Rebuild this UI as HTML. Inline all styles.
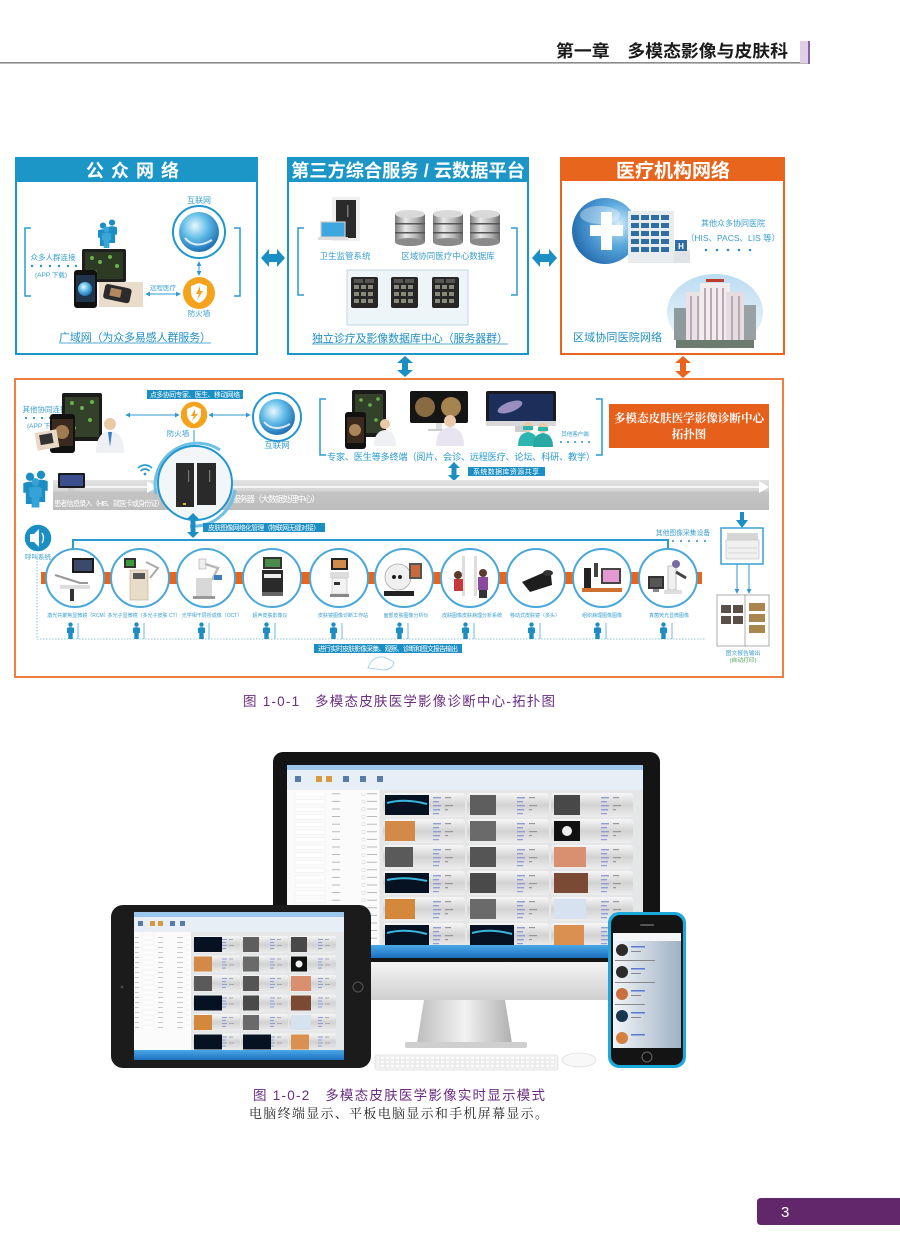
<!DOCTYPE html>
<html><head><meta charset="utf-8">
<style>
html,body{margin:0;padding:0;background:#fff;width:900px;height:1260px;overflow:hidden;}
svg{display:block;}
text{font-family:"Liberation Sans","Noto Sans CJK SC",sans-serif;}
.serif{font-family:"Liberation Serif","Noto Serif CJK SC",serif;}
</style></head><body>
<svg width="900" height="1260" viewBox="0 0 900 1260" xmlns="http://www.w3.org/2000/svg">
<defs>
 <radialGradient id="globe" cx="0.4" cy="0.35" r="0.7"><stop offset="0" stop-color="#eaf7fd"/><stop offset="0.45" stop-color="#62bde9"/><stop offset="1" stop-color="#1668ad"/></radialGradient>
 <radialGradient id="globe2" cx="0.7" cy="0.4" r="0.8"><stop offset="0" stop-color="#d8eef9"/><stop offset="0.4" stop-color="#5aa9dc"/><stop offset="1" stop-color="#1a5fa6"/></radialGradient>
 <linearGradient id="cyl" x1="0" y1="0" x2="1" y2="0"><stop offset="0" stop-color="#7d7d7d"/><stop offset="0.35" stop-color="#e8e8e8"/><stop offset="0.7" stop-color="#b5b5b5"/><stop offset="1" stop-color="#6d6d6d"/></linearGradient>
 <linearGradient id="band" x1="0" y1="0" x2="0" y2="1"><stop offset="0" stop-color="#e2e2e2"/><stop offset="0.35" stop-color="#d6d6d6"/><stop offset="0.4" stop-color="#c4c4c4"/><stop offset="1" stop-color="#bdbdbd"/></linearGradient>
 <linearGradient id="tileg" x1="0" y1="0" x2="0" y2="1"><stop offset="0" stop-color="#f6f6f6"/><stop offset="0.5" stop-color="#d2d2d2"/><stop offset="1" stop-color="#ededed"/></linearGradient>
 <linearGradient id="silver" x1="0" y1="0" x2="0" y2="1"><stop offset="0" stop-color="#f4f4f4"/><stop offset="1" stop-color="#cfcfcf"/></linearGradient>
 <linearGradient id="neck" x1="0" y1="0" x2="1" y2="0"><stop offset="0" stop-color="#bdbdbd"/><stop offset="0.5" stop-color="#f2f2f2"/><stop offset="1" stop-color="#b0b0b0"/></linearGradient>
 <linearGradient id="taskbar" x1="0" y1="0" x2="0" y2="1"><stop offset="0" stop-color="#4aa9e6"/><stop offset="1" stop-color="#1b6fc0"/></linearGradient>
 <linearGradient id="sky" x1="0" y1="0" x2="0" y2="1"><stop offset="0" stop-color="#bcdcf2"/><stop offset="1" stop-color="#f4f8fb"/></linearGradient>
 <linearGradient id="phoneScr" x1="0" y1="0" x2="1" y2="0"><stop offset="0" stop-color="#f2f5f8"/><stop offset="1" stop-color="#9fb2c4"/></linearGradient>
 <marker id="ah" viewBox="0 0 6 6" refX="5" refY="3" markerWidth="5" markerHeight="5" orient="auto-start-reverse"><path d="M0,0 L6,3 L0,6 Z" fill="#2f9ad0"/></marker>
 <symbol id="person" viewBox="0 0 10 20"><circle cx="5" cy="3" r="2.6"/><path d="M0.8,7 Q5,5 9.2,7 L9.2,13 L7.6,13 L7.6,20 L2.4,20 L2.4,13 L0.8,13 Z"/></symbol>
 <g id="mtile"><rect width="82" height="24" rx="3" fill="url(#tileg)"/><g fill="#8e9ed6"><rect x="50" y="4" width="8" height="1.4"/><rect x="50" y="8" width="6" height="1.4"/><rect x="50" y="12" width="8" height="1.4"/><rect x="50" y="16" width="7" height="1.4"/><rect x="50" y="20" width="6" height="1.2"/></g><g fill="#999"><rect x="62" y="4" width="6" height="1.2"/><rect x="62" y="12" width="8" height="1.2"/><rect x="62" y="16" width="3" height="1.2"/></g></g>
 <g id="ttile"><rect width="47" height="17" rx="2" fill="url(#tileg)"/><g fill="#8e9ed6"><rect x="29" y="3" width="5" height="1"/><rect x="29" y="6" width="4" height="1"/><rect x="29" y="9" width="5" height="1"/><rect x="29" y="12" width="4" height="1"/></g><g fill="#aaa"><rect x="36" y="3" width="4" height="1"/><rect x="36" y="9" width="5" height="1"/></g></g>
 <pattern id="formrows" width="90" height="7.6" patternUnits="userSpaceOnUse"><rect x="2" y="2" width="3" height="3" fill="none" stroke="#c8c8c8" stroke-width="0.4"/><rect x="7" y="3" width="10" height="0.8" fill="#aaa"/><rect x="25" y="1.5" width="30" height="4.5" fill="#fff" stroke="#e6e6e6" stroke-width="0.4"/><rect x="62" y="3" width="8" height="0.8" fill="#aaa"/></pattern>
 <pattern id="formrowsT" width="44" height="5" patternUnits="userSpaceOnUse"><rect x="1" y="2" width="6" height="0.6" fill="#aaa"/><rect x="10" y="1" width="12" height="3" fill="#fff" stroke="#e6e6e6" stroke-width="0.3"/><rect x="26" y="2" width="5" height="0.6" fill="#aaa"/></pattern>
 <pattern id="keys" width="5" height="4" patternUnits="userSpaceOnUse"><rect x="0.5" y="0.5" width="4" height="3" fill="#fcfcfc" stroke="#dedede" stroke-width="0.4"/></pattern>
</defs>

<!-- ===== Running header ===== -->
<text x="556" y="57" font-size="17" font-weight="bold" fill="#1a1a1a" textLength="232" lengthAdjust="spacingAndGlyphs">第一章　多模态影像与皮肤科</text>
<rect x="0" y="62" width="810" height="1.6" fill="#8c8c8c"/>
<rect x="800" y="41" width="8" height="22" fill="#dccfe6"/>
<rect x="808" y="41" width="2" height="23" fill="#8d5f9f"/>

<!-- ===== Box 1 公众网络 ===== -->
<rect x="16" y="158" width="241" height="196" fill="#fff" stroke="#1b96c6" stroke-width="2"/>
<rect x="16" y="158" width="241" height="24" fill="#1b96c6"/>
<text x="136" y="177" font-size="18" font-weight="bold" fill="#fff" text-anchor="middle" letter-spacing="7">公众网络</text>
<path d="M31,228 H25 V296 H31" fill="none" stroke="#2a9bd0" stroke-width="1.5"/>
<path d="M234,228 H240 V296 H234" fill="none" stroke="#2a9bd0" stroke-width="1.5"/>
<text x="53" y="260" font-size="7.5" fill="#3a9fd0" text-anchor="middle">众多人群连接</text>
<g fill="#2a8fc6"><circle cx="32" cy="266" r="1.2"/><circle cx="41" cy="266" r="1.2"/><circle cx="50" cy="266" r="1.2"/><circle cx="59" cy="266" r="1.2"/><circle cx="68" cy="266" r="1.2"/><circle cx="76" cy="266" r="1.2"/></g>
<text x="51" y="277" font-size="6.5" fill="#3a9fd0" text-anchor="middle">(APP 下载)</text>
<g fill="#1d8ec3"><use href="#person" x="97" y="218" width="12" height="32"/><use href="#person" x="106" y="214" width="12" height="34"/><use href="#person" x="101" y="222" width="11" height="30" fill="#3aa6d8"/></g>
<rect x="82" y="249" width="44" height="33" rx="2" fill="#1f1f1f"/>
<rect x="85" y="252" width="38" height="27" fill="#2e3b24"/>
<g fill="#6ab04c"><circle cx="92" cy="258" r="2"/><circle cx="100" cy="262" r="2"/><circle cx="110" cy="257" r="2"/><circle cx="117" cy="266" r="2"/><circle cx="95" cy="272" r="2"/></g>
<rect x="74" y="270" width="23" height="38" rx="3" fill="#111"/>
<rect x="76" y="275" width="19" height="27" fill="#20344c"/>
<circle cx="85" cy="289" r="7" fill="url(#globe)"/>
<rect x="99" y="282" width="44" height="25" fill="#e9dccb"/>
<rect x="104" y="286" width="27" height="15" rx="3" fill="#2b2b2b" transform="rotate(12 117 293)"/>
<rect x="110" y="289" width="11" height="8" fill="#b08860" transform="rotate(12 117 293)"/>
<line x1="146" y1="294" x2="180" y2="294" stroke="#2f9ad0" stroke-width="1" marker-start="url(#ah)" marker-end="url(#ah)"/>
<text x="163" y="290" font-size="6.5" fill="#3a9fd0" text-anchor="middle">远程医疗</text>
<text x="199" y="203" font-size="8" fill="#3a9fd0" text-anchor="middle">互联网</text>
<circle cx="199" cy="232" r="26" fill="#fff" stroke="#2196cf" stroke-width="2"/>
<circle cx="199" cy="232" r="20" fill="url(#globe)"/>
<path d="M185,238 Q195,250 212,240" stroke="#fff" stroke-width="2" fill="none" opacity="0.8"/>
<line x1="199" y1="262" x2="199" y2="275" stroke="#2f9ad0" stroke-width="1" marker-start="url(#ah)" marker-end="url(#ah)"/>
<circle cx="199" cy="293" r="16" fill="#f5a31c"/>
<path d="M199,283 L207,286 L207,293 Q206,300 199,303 Q192,300 191,293 L191,286 Z" fill="#fff"/>
<path d="M200,286 L196,294 L199,294 L197,300 L203,291 L200,291 Z" fill="#f5a31c"/>
<text x="199" y="316" font-size="7.5" fill="#3a9fd0" text-anchor="middle">防火墙</text>
<text x="135" y="341" font-size="11" fill="#1d8ec3" text-anchor="middle" textLength="152">广域网（为众多易感人群服务）</text>
<line x1="59" y1="343" x2="211" y2="343" stroke="#1d8ec3" stroke-width="0.8"/>

<!-- arrows between boxes -->
<polygon points="261,258 269,249 269,254 277,254 277,249 285,258 277,267 277,262 269,262 269,267" fill="#1b8fc4"/>
<polygon points="532,258 540,249 540,254 549,254 549,249 557,258 549,267 549,262 540,262 540,267" fill="#1b8fc4"/>

<!-- ===== Box 2 第三方综合服务 ===== -->
<rect x="288" y="158" width="240" height="196" fill="#fff" stroke="#1b96c6" stroke-width="2"/>
<rect x="288" y="158" width="240" height="24" fill="#1b96c6"/>
<text x="408" y="177" font-size="18" font-weight="bold" fill="#fff" text-anchor="middle" textLength="234" lengthAdjust="spacingAndGlyphs">第三方综合服务 / 云数据平台</text>
<path d="M304,228 H298 V295 H304" fill="none" stroke="#2a9bd0" stroke-width="1.5"/>
<path d="M511,228 H517 V295 H511" fill="none" stroke="#2a9bd0" stroke-width="1.5"/>
<rect x="332" y="197" width="28" height="44" fill="#f0f0f0"/>
<rect x="336" y="200" width="20" height="38" fill="#2a2a2a"/>
<rect x="347" y="205" width="1.5" height="12" fill="#777"/>
<rect x="321" y="222" width="24" height="15" fill="#3fa7e0" stroke="#ccc" stroke-width="1.2"/>
<rect x="318" y="237" width="30" height="3" fill="#ddd"/>
<text x="345" y="259" font-size="8.5" fill="#3a9fd0" text-anchor="middle">卫生监管系统</text>
<g>
 <rect x="395" y="214" width="30" height="28" fill="url(#cyl)"/><ellipse cx="410" cy="214" rx="15" ry="4" fill="#d9d9d9"/><ellipse cx="410" cy="242" rx="15" ry="4" fill="#8a8a8a"/>
 <rect x="395" y="223" width="30" height="1.5" fill="#555"/><rect x="395" y="232" width="30" height="1.5" fill="#555"/>
 <rect x="433" y="214" width="30" height="28" fill="url(#cyl)"/><ellipse cx="448" cy="214" rx="15" ry="4" fill="#d9d9d9"/><ellipse cx="448" cy="242" rx="15" ry="4" fill="#8a8a8a"/>
 <rect x="433" y="223" width="30" height="1.5" fill="#555"/><rect x="433" y="232" width="30" height="1.5" fill="#555"/>
 <rect x="470" y="214" width="30" height="28" fill="url(#cyl)"/><ellipse cx="485" cy="214" rx="15" ry="4" fill="#d9d9d9"/><ellipse cx="485" cy="242" rx="15" ry="4" fill="#8a8a8a"/>
 <rect x="470" y="223" width="30" height="1.5" fill="#555"/><rect x="470" y="232" width="30" height="1.5" fill="#555"/>
</g>
<text x="448" y="259" font-size="8.5" fill="#3a9fd0" text-anchor="middle">区域协同医疗中心数据库</text>
<rect x="347" y="270" width="121" height="55" fill="#eef5f8" stroke="#b9d9e6" stroke-width="1"/>
<g>
 <rect x="351" y="277" width="27" height="31" rx="2" fill="#262626"/><rect x="391" y="277" width="27" height="31" rx="2" fill="#262626"/><rect x="432" y="277" width="27" height="31" rx="2" fill="#262626"/>
 <g fill="#8a8a7a">
  <rect x="354" y="285" width="5" height="4"/><rect x="361" y="285" width="5" height="4"/><rect x="368" y="285" width="5" height="4"/><rect x="354" y="292" width="5" height="4"/><rect x="361" y="292" width="5" height="4"/><rect x="368" y="292" width="5" height="4"/><rect x="354" y="299" width="5" height="4"/><rect x="361" y="299" width="5" height="4"/><rect x="368" y="299" width="5" height="4"/>
  <rect x="394" y="285" width="5" height="4"/><rect x="401" y="285" width="5" height="4"/><rect x="408" y="285" width="5" height="4"/><rect x="394" y="292" width="5" height="4"/><rect x="401" y="292" width="5" height="4"/><rect x="408" y="292" width="5" height="4"/><rect x="394" y="299" width="5" height="4"/><rect x="401" y="299" width="5" height="4"/><rect x="408" y="299" width="5" height="4"/>
  <rect x="435" y="285" width="5" height="4"/><rect x="442" y="285" width="5" height="4"/><rect x="449" y="285" width="5" height="4"/><rect x="435" y="292" width="5" height="4"/><rect x="442" y="292" width="5" height="4"/><rect x="449" y="292" width="5" height="4"/><rect x="435" y="299" width="5" height="4"/><rect x="442" y="299" width="5" height="4"/><rect x="449" y="299" width="5" height="4"/>
 </g>
 <g fill="#555"><rect x="354" y="279" width="9" height="4"/><rect x="365" y="279" width="9" height="4"/><rect x="394" y="279" width="9" height="4"/><rect x="405" y="279" width="9" height="4"/><rect x="435" y="279" width="9" height="4"/><rect x="446" y="279" width="9" height="4"/></g>
</g>
<text x="410" y="342" font-size="11" fill="#1d8ec3" text-anchor="middle" textLength="196">独立诊疗及影像数据库中心（服务器群）</text>
<line x1="312" y1="344" x2="508" y2="344" stroke="#1d8ec3" stroke-width="0.8"/>

<!-- ===== Box 3 医疗机构网络 ===== -->
<rect x="561" y="158" width="223" height="196" fill="#fff" stroke="#e8651e" stroke-width="2"/>
<rect x="561" y="158" width="223" height="23" fill="#e8651e"/>
<text x="673" y="177" font-size="19" font-weight="bold" fill="#fff" text-anchor="middle">医疗机构网络</text>
<circle cx="605" cy="231" r="33" fill="url(#globe2)"/>
<ellipse cx="600" cy="215" rx="20" ry="9" fill="#fff" opacity="0.35"/>
<rect x="590" y="225" width="33" height="11" fill="#fff"/>
<rect x="601" y="212" width="11" height="38" fill="#fff"/>
<rect x="628" y="211" width="46" height="52" fill="#e8ecef"/>
<g fill="#2f6da6">
 <rect x="631" y="215" width="8" height="5"/><rect x="641" y="215" width="8" height="5"/><rect x="651" y="215" width="8" height="5"/><rect x="661" y="215" width="8" height="5"/>
 <rect x="631" y="223" width="8" height="5"/><rect x="641" y="223" width="8" height="5"/><rect x="651" y="223" width="8" height="5"/><rect x="661" y="223" width="8" height="5"/>
 <rect x="631" y="231" width="8" height="5"/><rect x="641" y="231" width="8" height="5"/><rect x="651" y="231" width="8" height="5"/><rect x="661" y="231" width="8" height="5"/>
 <rect x="631" y="239" width="8" height="5"/><rect x="641" y="239" width="8" height="5"/><rect x="651" y="239" width="8" height="5"/><rect x="661" y="239" width="8" height="5"/>
 <rect x="631" y="247" width="8" height="5"/><rect x="641" y="247" width="8" height="5"/><rect x="651" y="247" width="8" height="5"/><rect x="661" y="247" width="8" height="5"/>
</g>
<rect x="674" y="250" width="16" height="13" fill="#dfe3e6"/>
<rect x="675" y="240" width="12" height="11" fill="#2f6da6"/>
<text x="681" y="249" font-size="8" font-weight="bold" fill="#fff" text-anchor="middle">H</text>
<text x="733" y="226" font-size="8" fill="#3a9fd0" text-anchor="middle">其他众多协同医院</text>
<text x="733" y="241" font-size="8.5" fill="#3a9fd0" text-anchor="middle">（HIS、PACS、LIS 等）</text>
<g fill="#2a8fc6"><circle cx="706" cy="250" r="1.3"/><circle cx="717" cy="250" r="1.3"/><circle cx="728" cy="250" r="1.3"/><circle cx="739" cy="250" r="1.3"/><circle cx="750" cy="250" r="1.3"/></g>
<ellipse cx="715" cy="312" rx="48" ry="38" fill="url(#sky)"/>
<g>
 <rect x="686" y="292" width="18" height="50" fill="#e9e1e3"/>
 <rect x="700" y="283" width="30" height="62" fill="#f2eced"/>
 <rect x="726" y="292" width="18" height="50" fill="#e4dcdf"/>
 <g fill="#b9a9b6"><rect x="704" y="288" width="2" height="52"/><rect x="710" y="288" width="2" height="52"/><rect x="716" y="288" width="2" height="52"/><rect x="722" y="288" width="2" height="52"/><rect x="690" y="296" width="2" height="44"/><rect x="697" y="296" width="2" height="44"/><rect x="731" y="296" width="2" height="44"/><rect x="738" y="296" width="2" height="44"/></g>
 <rect x="706" y="279" width="18" height="3" fill="#c0392b"/>
 <rect x="744" y="305" width="12" height="35" fill="#9aa1a4"/>
 <rect x="674" y="308" width="12" height="32" fill="#8f9a9e"/>
 <rect x="676" y="340" width="78" height="8" fill="#6b7b6e"/>
</g>
<text x="573" y="341" font-size="11" fill="#1d8ec3" textLength="89">区域协同医院网络</text>

<polygon points="405,356 413,363 408,363 408,370 413,370 405,377 397,370 402,370 402,363 397,363" fill="#1b8fc4"/>
<polygon points="683,356 691,363 686,363 686,371 691,371 683,378 675,371 680,371 680,363 675,363" fill="#e8651e"/>

<!-- ===== Big orange box ===== -->
<rect x="15" y="379" width="768" height="298" fill="#fff" stroke="#ec8040" stroke-width="2"/>

<!-- top left cluster -->
<text x="45" y="412" font-size="7.5" fill="#3a9fd0" text-anchor="middle">其他协同连接</text>
<g fill="#2a8fc6"><circle cx="26" cy="418" r="1.1"/><circle cx="34" cy="418" r="1.1"/><circle cx="42" cy="418" r="1.1"/><circle cx="50" cy="418" r="1.1"/><circle cx="58" cy="418" r="1.1"/><circle cx="65" cy="418" r="1.1"/></g>
<text x="43" y="428" font-size="6.5" fill="#3a9fd0" text-anchor="middle">(APP 下载)</text>
<rect x="62" y="393" width="40" height="48" rx="2" fill="#1b1b1b"/>
<rect x="65" y="397" width="34" height="40" fill="#34412a"/>
<g fill="#6ab04c"><circle cx="72" cy="403" r="2"/><circle cx="82" cy="408" r="2"/><circle cx="92" cy="402" r="2"/><circle cx="90" cy="420" r="2"/><circle cx="74" cy="428" r="2"/></g>
<rect x="50" y="414" width="25" height="39" rx="3" fill="#111"/>
<rect x="52" y="419" width="21" height="27" fill="#3a2a1e"/>
<circle cx="62" cy="432" r="7" fill="#a07a50"/>
<rect x="36" y="431" width="22" height="18" fill="#e8d8c5" transform="rotate(-10 47 440)"/>
<rect x="40" y="434" width="13" height="10" fill="#333" transform="rotate(-10 47 440)"/>
<circle cx="110" cy="424" r="6" fill="#e9c9a8"/>
<path d="M96,453 Q96,432 110,431 Q124,432 124,453 Z" fill="#eef0f4"/>
<path d="M108,432 L110,447 L112,432 Z" fill="#3a7fc0"/>
<rect x="147" y="390" width="96" height="9" fill="#1b8fc4"/>
<text x="195" y="397" font-size="6.8" fill="#fff" text-anchor="middle" textLength="90">点多协同专家、医生、移动网络</text>
<line x1="126" y1="415" x2="179" y2="415" stroke="#2f9ad0" stroke-width="1" marker-start="url(#ah)" marker-end="url(#ah)"/>
<line x1="209" y1="415" x2="250" y2="415" stroke="#2f9ad0" stroke-width="1" marker-start="url(#ah)" marker-end="url(#ah)"/>
<circle cx="194" cy="415" r="14" fill="#f5a31c" stroke="#fff" stroke-width="1.5"/>
<path d="M194,406 L201,409 L201,415 Q200,421 194,424 Q188,421 187,415 L187,409 Z" fill="#fff"/>
<path d="M195,409 L191,416 L194,416 L192,421 L198,414 L195,414 Z" fill="#f5a31c"/>
<text x="178" y="436" font-size="7.5" fill="#3a9fd0" text-anchor="middle">防火墙</text>
<line x1="194" y1="430" x2="194" y2="446" stroke="#2f9ad0" stroke-width="1" marker-end="url(#ah)"/>
<circle cx="277" cy="417" r="24" fill="#fff" stroke="#2196cf" stroke-width="2"/>
<circle cx="277" cy="417" r="18" fill="url(#globe)"/>
<path d="M264,422 Q274,433 290,424" stroke="#fff" stroke-width="2" fill="none" opacity="0.8"/>
<text x="277" y="448" font-size="8.5" fill="#3a9fd0" text-anchor="middle">互联网</text>

<!-- expert cluster -->
<path d="M326,399 H320 V455 H326" fill="none" stroke="#2a9bd0" stroke-width="1.5"/>
<path d="M596,399 H602 V455 H596" fill="none" stroke="#2a9bd0" stroke-width="1.5"/>
<rect x="352" y="390" width="34" height="47" rx="2" fill="#1b1b1b"/>
<rect x="355" y="394" width="28" height="39" fill="#34412a"/>
<g fill="#6ab04c"><circle cx="361" cy="400" r="1.8"/><circle cx="370" cy="405" r="1.8"/><circle cx="378" cy="399" r="1.8"/><circle cx="376" cy="420" r="1.8"/></g>
<rect x="345" y="412" width="21" height="37" rx="3" fill="#111"/>
<rect x="347" y="417" width="17" height="26" fill="#3a2a1e"/>
<circle cx="355" cy="430" r="6" fill="#a8865a"/>
<circle cx="385" cy="424" r="5" fill="#e9c9a8"/>
<path d="M374,446 Q374,431 385,430 Q396,431 396,446 Z" fill="#eef0f4"/>
<rect x="410" y="391" width="58" height="32" rx="2" fill="#151515"/>
<circle cx="425" cy="407" r="10" fill="#8a6a40"/><circle cx="451" cy="407" r="10" fill="#a5844f"/>
<rect x="436" y="423" width="6" height="6" fill="#ddd"/><rect x="428" y="429" width="22" height="2" fill="#ccc"/>
<circle cx="450" cy="421" r="6" fill="#e9c9a8"/>
<path d="M436,446 Q436,428 450,427 Q464,428 464,446 Z" fill="#e8e4f0"/>
<rect x="486" y="391" width="70" height="35" rx="2" fill="#1a1a22"/>
<rect x="489" y="394" width="64" height="27" fill="#1c2e5a"/>
<ellipse cx="510" cy="407" rx="13" ry="5" fill="#b8a6d8" opacity="0.8" transform="rotate(-20 510 407)"/>
<rect x="486" y="421" width="70" height="5" fill="#d8d8d8"/>
<rect x="515" y="426" width="12" height="6" fill="#ccc"/>
<circle cx="528" cy="427" r="5" fill="#e9c9a8"/><circle cx="543" cy="428" r="5" fill="#e9c9a8"/>
<rect x="523" y="426" width="10" height="4" fill="#2fb5b0"/><rect x="538" y="427" width="10" height="4" fill="#2fb5b0"/>
<path d="M518,446 Q518,433 528,432 Q538,433 538,446 Z" fill="#2fb5b0"/>
<path d="M533,447 Q533,434 543,433 Q553,434 553,447 Z" fill="#29a9a4"/>
<text x="575" y="436" font-size="5.5" fill="#3a9fd0" text-anchor="middle">其他客户端</text>
<g fill="#2a8fc6"><circle cx="561" cy="442" r="1"/><circle cx="568" cy="442" r="1"/><circle cx="575" cy="442" r="1"/><circle cx="582" cy="442" r="1"/><circle cx="589" cy="442" r="1"/></g>
<text x="327" y="460" font-size="9.2" fill="#2a9bd0" textLength="268">专家、医生等多终端（阅片、会诊、远程医疗、论坛、科研、教学）</text>
<rect x="609" y="404" width="160" height="44" fill="#e6601c"/>
<text x="689" y="422" class="serif" font-size="11.5" font-weight="bold" fill="#fff" text-anchor="middle" textLength="150">多模态皮肤医学影像诊断中心</text>
<text x="689" y="438" class="serif" font-size="11.5" font-weight="bold" fill="#fff" text-anchor="middle">拓扑图</text>
<polygon points="454,462 460,468 456.5,468 456.5,475 460,475 454,481 448,475 451.5,475 451.5,468 448,468" fill="#1b8fc4"/>
<rect x="468" y="467" width="77" height="9" fill="#1b8fc4"/>
<text x="506" y="474" font-size="7" fill="#fff" text-anchor="middle" textLength="66">系统数据库资源共享</text>

<!-- gray band -->
<rect x="53" y="480" width="716" height="30" fill="url(#band)"/>
<line x1="60" y1="487" x2="760" y2="487" stroke="#fff" stroke-width="1.5"/>
<polygon points="759,481 769,487 759,493" fill="#fff"/>
<polygon points="147,481 157,487 147,493" fill="#fff"/>
<g fill="#1d8ec3"><use href="#person" x="22" y="466" width="16" height="44"/><use href="#person" x="33" y="462" width="16" height="48"/><use href="#person" x="28" y="472" width="15" height="41" fill="#35a3d8"/></g>
<rect x="58" y="473" width="27" height="15" rx="1" fill="#1a1a22"/>
<rect x="60" y="475" width="23" height="11" fill="#3b4f8e"/>
<rect x="68" y="488" width="7" height="3" fill="#ccc"/>
<text x="54" y="506" font-size="7.3" fill="#fff" textLength="110">患者信息录入（HIS、就医卡或身份证）</text>
<text x="232" y="502" font-size="8.5" fill="#fff" textLength="88">服务器（大数据处理中心）</text>
<g fill="none" stroke="#2a9bd0" stroke-width="1.6"><path d="M138,468 Q145,462 152,468"/><path d="M140.5,471 Q145,467 149.5,471"/></g>
<circle cx="145" cy="474" r="1.4" fill="#2a9bd0"/>
<path d="M156,494 A42,42 0 0 1 220,450" fill="none" stroke="#6fc0e6" stroke-width="3"/>
<path d="M235,490 A42,42 0 0 1 190,526" fill="none" stroke="#6fc0e6" stroke-width="3"/>
<circle cx="195" cy="483" r="37" fill="#f3f6f8" stroke="#2196cf" stroke-width="2"/>
<rect x="176" y="463" width="18" height="44" fill="#2a2a2a"/>
<rect x="197" y="463" width="19" height="42" fill="#2a2a2a"/>
<rect x="188" y="470" width="1.2" height="12" fill="#777"/><rect x="209" y="470" width="1.2" height="12" fill="#777"/>
<rect x="183" y="503" width="3" height="2" fill="#e0c020"/>
<polygon points="193,513 199,519 195.5,519 195.5,532 199,532 193,538 187,532 190.5,532 190.5,519 187,519" fill="#1b8fc4"/>
<rect x="203" y="523" width="122" height="9" fill="#1b8fc4"/>
<text x="264" y="530" font-size="6.8" fill="#fff" text-anchor="middle" textLength="112">皮肤图像网络化管理（物联网无缝对接）</text>
<circle cx="38" cy="538" r="14" fill="#1b8fc4" stroke="#fff" stroke-width="1.5"/>
<path d="M30,534 h4 l5,-5 v18 l-5,-5 h-4 z" fill="#fff"/>
<path d="M42,533 Q45,538 42,543" stroke="#fff" stroke-width="1.3" fill="none"/>
<text x="38" y="559" font-size="6.5" fill="#3a9fd0" text-anchor="middle">呼叫系统</text>

<!-- device bus -->
<path d="M73,550 V540 H668 V550" fill="none" stroke="#2a9bd0" stroke-width="2"/>
<line x1="37" y1="555" x2="37" y2="639" stroke="#6fb8dc" stroke-width="0.8" stroke-dasharray="1.5,1.5"/>
<line x1="37" y1="639" x2="706" y2="639" stroke="#6fb8dc" stroke-width="0.8" stroke-dasharray="1.5,1.5"/>
<rect x="41" y="572" width="661" height="12" fill="#e8651e"/>
<g fill="#fff" stroke="#4aa8d8" stroke-width="2">
 <circle cx="75" cy="578" r="29"/><circle cx="140" cy="578" r="29"/><circle cx="206" cy="578" r="29"/><circle cx="272" cy="578" r="29"/><circle cx="339" cy="578" r="29"/>
 <circle cx="404" cy="578" r="29"/><circle cx="470" cy="578" r="29"/><circle cx="536" cy="578" r="29"/><circle cx="602" cy="578" r="29"/><circle cx="668" cy="578" r="29"/>
</g>
<!-- device icons -->
<g>
 <rect x="72" y="558" width="22" height="15" fill="#1a1a1a"/><rect x="74" y="560" width="18" height="11" fill="#3b4a6a"/>
 <path d="M55,575 L80,583 L88,583" stroke="#999" stroke-width="2" fill="none"/><rect x="60" y="585" width="30" height="4" fill="#ddd"/><rect x="70" y="589" width="4" height="12" fill="#333"/>
 <rect x="130" y="570" width="18" height="30" fill="#e8dcc6" stroke="#b8a890" stroke-width="0.6"/><rect x="133" y="573" width="12" height="6" fill="#555"/>
 <rect x="124" y="558" width="12" height="10" fill="#333"/><rect x="126" y="560" width="8" height="6" fill="#3a9a3a"/>
 <path d="M146,562 L158,568 L150,578" stroke="#aaa" stroke-width="2" fill="none"/>
 <rect x="199" y="559" width="7" height="10" fill="#eee" stroke="#aaa" stroke-width="0.6"/><path d="M205,564 L218,568 L212,580" stroke="#bbb" stroke-width="2.5" fill="none"/>
 <rect x="196" y="578" width="16" height="18" fill="#d8d8d8"/><rect x="193" y="596" width="22" height="3" fill="#999"/><rect x="214" y="575" width="8" height="5" fill="#3a7fc0"/>
 <rect x="263" y="557" width="19" height="12" fill="#333"/><rect x="265" y="559" width="15" height="8" fill="#4a8a4a"/>
 <rect x="262" y="570" width="21" height="22" fill="#2a2a2a"/><rect x="264" y="574" width="17" height="4" fill="#eee"/><rect x="262" y="592" width="21" height="4" fill="#666"/>
 <rect x="331" y="558" width="17" height="12" fill="#222"/><rect x="333" y="560" width="13" height="8" fill="#d08a4a"/>
 <rect x="330" y="572" width="19" height="6" fill="#ddd"/><rect x="332" y="578" width="15" height="16" fill="#f2f2f2" stroke="#bbb" stroke-width="0.6"/><rect x="334" y="582" width="6" height="3" fill="#333"/><rect x="330" y="594" width="19" height="3" fill="#888"/>
 <circle cx="398" cy="577" r="13" fill="#f0f0f0" stroke="#aaa" stroke-width="0.8"/><circle cx="394" cy="577" r="2" fill="#222"/><circle cx="400" cy="577" r="2" fill="#222"/>
 <rect x="409" y="563" width="13" height="16" fill="#555"/><rect x="411" y="565" width="9" height="12" fill="#c96a3a"/><rect x="384" y="591" width="30" height="5" fill="#222"/>
 <rect x="462" y="556" width="3" height="40" fill="#ddd"/><rect x="474" y="556" width="3" height="40" fill="#ddd"/>
 <circle cx="458" cy="575" r="4" fill="#5a3a2a"/><rect x="454" y="579" width="9" height="12" fill="#c43a3a"/>
 <circle cx="483" cy="573" r="4" fill="#5a3a2a"/><rect x="478" y="577" width="10" height="13" fill="#8a4aa0"/><rect x="479" y="590" width="8" height="8" fill="#333"/>
 <path d="M522,582 L545,572 L551,575 L552,585 L530,592 Z" fill="#1e1e1e"/><ellipse cx="548" cy="573" rx="5" ry="3" fill="#333"/>
 <rect x="584" y="568" width="7" height="22" fill="#222"/><rect x="594" y="563" width="4" height="14" fill="#444"/><rect x="601" y="568" width="20" height="16" fill="#444"/><rect x="603" y="570" width="16" height="12" fill="#e39ad0"/>
 <rect x="582" y="588" width="40" height="4" fill="#d07030"/>
 <rect x="648" y="576" width="16" height="13" fill="#333"/><rect x="650" y="578" width="12" height="9" fill="#555"/><rect x="653" y="589" width="6" height="3" fill="#888"/>
 <rect x="668" y="566" width="8" height="24" fill="#f0f0f0" stroke="#999" stroke-width="0.6"/><circle cx="676" cy="564" r="4" fill="#7a6aa0"/><path d="M676,572 L686,578" stroke="#444" stroke-width="3"/><rect x="664" y="590" width="18" height="4" fill="#ddd"/>
</g>
<g font-size="5" fill="#3a9fd0" text-anchor="middle">
 <text x="78" y="617">激光共聚焦显微镜（RCM）</text>
 <text x="144" y="617">多光子显微镜（多光子皮肤 CT）</text>
 <text x="212" y="617">光学相干层析成像（OCT）</text>
 <text x="270" y="617">超声皮肤影像仪</text>
 <text x="343" y="617">皮肤镜图像诊断工作站</text>
 <text x="406" y="617">面部皮肤图像分析仪</text>
 <text x="472" y="617">皮肤图像皮肤病理分析系统</text>
 <text x="535" y="617">移动式皮肤镜（多头）</text>
 <text x="602" y="617">组织病理图像图像</text>
 <text x="669" y="617">真菌荧光显微图像</text>
</g>
<g fill="#1d8ec3">
 <use href="#person" x="66" y="622" width="9" height="17"/><use href="#person" x="132" y="622" width="9" height="17"/><use href="#person" x="197" y="622" width="9" height="17"/>
 <use href="#person" x="262" y="622" width="9" height="17"/><use href="#person" x="329" y="622" width="9" height="17"/><use href="#person" x="395" y="622" width="9" height="17"/>
 <use href="#person" x="461" y="622" width="9" height="17"/><use href="#person" x="527" y="622" width="9" height="17"/><use href="#person" x="593" y="622" width="9" height="17"/>
 <use href="#person" x="659" y="622" width="9" height="17"/>
</g>
<g stroke="#4aa8d8" stroke-width="0.8">
 <line x1="78" y1="623" x2="78" y2="639"/><line x1="144" y1="623" x2="144" y2="639"/><line x1="209" y1="623" x2="209" y2="639"/><line x1="275" y1="623" x2="275" y2="639"/><line x1="342" y1="623" x2="342" y2="639"/>
 <line x1="408" y1="623" x2="408" y2="639"/><line x1="474" y1="623" x2="474" y2="639"/><line x1="540" y1="623" x2="540" y2="639"/><line x1="606" y1="623" x2="606" y2="639"/><line x1="672" y1="623" x2="672" y2="639"/>
</g>
<rect x="314" y="644" width="148" height="9" fill="#1b8fc4"/>
<text x="388" y="651" font-size="6.8" fill="#fff" text-anchor="middle" textLength="140">进行实时皮肤影像采集、观察、诊断和图文报告输出</text>
<path d="M368,668 Q372,656 384,657 L394,662 Q393,669 384,670 Z" fill="none" stroke="#a9d4ec" stroke-width="1"/>
<text x="683" y="535" font-size="6.8" fill="#3a9fd0" text-anchor="middle">其他图像采集设备</text>
<g fill="#2a8fc6"><circle cx="673" cy="541" r="1"/><circle cx="681" cy="541" r="1"/><circle cx="689" cy="541" r="1"/><circle cx="697" cy="541" r="1"/><circle cx="705" cy="541" r="1"/></g>
<rect x="740" y="512" width="4" height="9" fill="#1b8fc4"/><polygon points="736,520 748,520 742,528" fill="#1b8fc4"/>
<rect x="721" y="528" width="42" height="36" fill="#fff" stroke="#3aa0d0" stroke-width="1.5"/>
<rect x="727" y="533" width="31" height="8" fill="#d6d6d6"/><rect x="726" y="540" width="33" height="19" fill="#f0f0f0" stroke="#bbb" stroke-width="0.6"/>
<line x1="728" y1="548" x2="757" y2="548" stroke="#bbb" stroke-width="0.6"/><line x1="728" y1="553" x2="757" y2="553" stroke="#bbb" stroke-width="0.6"/>
<line x1="737" y1="564" x2="737" y2="593" stroke="#2f9ad0" stroke-width="1" marker-end="url(#ah)"/>
<line x1="749" y1="564" x2="749" y2="593" stroke="#2f9ad0" stroke-width="1" marker-end="url(#ah)"/>
<rect x="717" y="595" width="29" height="51" fill="#fff" stroke="#999" stroke-width="0.8"/>
<rect x="745" y="595" width="24" height="51" fill="#fff" stroke="#999" stroke-width="0.8"/>
<g fill="#5a5048"><rect x="721" y="605" width="10" height="8"/><rect x="733" y="605" width="10" height="8"/><rect x="721" y="616" width="10" height="8"/><rect x="733" y="616" width="10" height="8"/></g>
<g fill="#a8864e"><rect x="749" y="603" width="16" height="8"/><rect x="749" y="614" width="16" height="8"/><rect x="749" y="625" width="16" height="8"/></g>
<text x="743" y="655" font-size="5.8" fill="#3a9fd0" text-anchor="middle">图文报告输出</text>
<text x="743" y="662" font-size="5.8" fill="#4aa34a" text-anchor="middle">(自动打印)</text>

<!-- caption 1 -->
<text x="243" y="706" font-size="13.5" fill="#6a2d80" textLength="312">图 1-0-1　多模态皮肤医学影像诊断中心-拓扑图</text>

<!-- ===== Monitor ===== -->
<rect x="273" y="752" width="387" height="214" rx="10" fill="#141414"/>
<path d="M273,962 H660 V990 Q660,1000 650,1000 H283 Q273,1000 273,990 Z" fill="url(#silver)"/>
<rect x="287" y="765" width="356" height="193" fill="#eef1f4"/>
<rect x="287" y="765" width="356" height="5" fill="#9cc6ec"/>
<rect x="287" y="770" width="356" height="20" fill="#e8eef6"/>
<g fill="#d89a40"><rect x="316" y="776" width="6" height="6"/><rect x="326" y="776" width="6" height="6"/></g>
<g fill="#5a7aa8"><rect x="295" y="776" width="6" height="6"/><rect x="343" y="776" width="6" height="6"/><rect x="360" y="776" width="6" height="6"/><rect x="377" y="776" width="6" height="6"/></g>
<rect x="287" y="790" width="92" height="155" fill="#fbfbfb"/>
<rect x="288" y="793" width="90" height="150" fill="url(#formrows)"/>
<rect x="380" y="790" width="263" height="155" fill="#e4e6e8"/>
<g>
 <use href="#mtile" x="383" y="793"/><use href="#mtile" x="467" y="793"/><use href="#mtile" x="551" y="793"/>
 <use href="#mtile" x="383" y="819"/><use href="#mtile" x="467" y="819"/><use href="#mtile" x="551" y="819"/>
 <use href="#mtile" x="383" y="845"/><use href="#mtile" x="467" y="845"/><use href="#mtile" x="551" y="845"/>
 <use href="#mtile" x="383" y="871"/><use href="#mtile" x="467" y="871"/><use href="#mtile" x="551" y="871"/>
 <use href="#mtile" x="383" y="897"/><use href="#mtile" x="467" y="897"/><use href="#mtile" x="551" y="897"/>
 <use href="#mtile" x="383" y="923"/><use href="#mtile" x="467" y="923"/><use href="#mtile" x="551" y="923"/>
</g>
<g>
 <rect x="385" y="795" width="44" height="20" fill="#061222"/><path d="M387,803 Q405,798 427,804" stroke="#3ab6e0" stroke-width="2" fill="none"/>
 <rect x="470" y="795" width="26" height="20" fill="#5e5e5e"/><rect x="554" y="795" width="26" height="20" fill="#484848"/>
 <rect x="385" y="821" width="30" height="20" fill="#d38a48"/><rect x="470" y="821" width="26" height="20" fill="#6a6a6a"/><rect x="554" y="821" width="26" height="20" fill="#111"/><circle cx="567" cy="831" r="5" fill="#eee"/>
 <rect x="385" y="847" width="28" height="20" fill="#5a5a5a"/><rect x="470" y="847" width="26" height="20" fill="#555"/><rect x="554" y="847" width="32" height="20" fill="#d99070"/>
 <rect x="385" y="873" width="44" height="20" fill="#061222"/><path d="M387,880 Q405,876 427,881" stroke="#3ab6e0" stroke-width="2" fill="none"/>
 <rect x="470" y="873" width="26" height="20" fill="#4a4a4a"/><rect x="554" y="873" width="34" height="20" fill="#7a4a34"/>
 <rect x="385" y="899" width="30" height="20" fill="#d4883c"/><rect x="470" y="899" width="26" height="20" fill="#6a6a6a"/><rect x="554" y="899" width="32" height="20" fill="#d6e2f0"/>
 <rect x="385" y="925" width="44" height="20" fill="#061222"/><path d="M387,933 Q405,928 427,934" stroke="#3ab6e0" stroke-width="2" fill="none"/>
 <rect x="470" y="925" width="44" height="20" fill="#061222"/><path d="M472,933 Q490,928 512,934" stroke="#3ab6e0" stroke-width="2" fill="none"/>
 <rect x="554" y="925" width="30" height="20" fill="#d99050"/>
</g>
<rect x="287" y="945" width="356" height="13" fill="url(#taskbar)"/>
<polygon points="424,1000 505,1000 512,1043 417,1043" fill="url(#neck)"/>
<rect x="405" y="1042" width="122" height="6" rx="2" fill="#cfcfcf"/>
<rect x="375" y="1055" width="183" height="15" rx="2" fill="#f2f2f2" stroke="#d6d6d6" stroke-width="0.6"/>
<rect x="378" y="1057" width="177" height="11" fill="url(#keys)"/>
<ellipse cx="579" cy="1060" rx="17" ry="7" fill="#f8f8f8" stroke="#d6d6d6" stroke-width="0.6"/>

<!-- ===== Tablet ===== -->
<rect x="111" y="905" width="260" height="163" rx="12" fill="#1b1b1b"/>
<circle cx="122" cy="987" r="1.5" fill="#444"/>
<circle cx="358" cy="987" r="5" fill="none" stroke="#555" stroke-width="1"/>
<rect x="134" y="912" width="210" height="148" fill="#eef1f4"/>
<rect x="134" y="912" width="210" height="5" fill="#9cc6ec"/>
<rect x="134" y="917" width="210" height="15" fill="#e8eef6"/>
<g fill="#d89a40"><rect x="150" y="921" width="5" height="5"/><rect x="158" y="921" width="5" height="5"/></g>
<g fill="#5a7aa8"><rect x="138" y="921" width="5" height="5"/><rect x="170" y="921" width="5" height="5"/><rect x="180" y="921" width="5" height="5"/></g>
<rect x="134" y="932" width="57" height="118" fill="#fbfbfb"/>
<rect x="135" y="934" width="55" height="95" fill="url(#formrowsT)"/>
<rect x="191" y="932" width="153" height="118" fill="#e4e6e8"/>
<g>
 <use href="#ttile" x="193" y="936"/><use href="#ttile" x="241" y="936"/><use href="#ttile" x="289" y="936"/>
 <use href="#ttile" x="193" y="955.5"/><use href="#ttile" x="241" y="955.5"/><use href="#ttile" x="289" y="955.5"/>
 <use href="#ttile" x="193" y="975"/><use href="#ttile" x="241" y="975"/><use href="#ttile" x="289" y="975"/>
 <use href="#ttile" x="193" y="994.5"/><use href="#ttile" x="241" y="994.5"/><use href="#ttile" x="289" y="994.5"/>
 <use href="#ttile" x="193" y="1014"/><use href="#ttile" x="241" y="1014"/><use href="#ttile" x="289" y="1014"/>
 <use href="#ttile" x="193" y="1033.5"/><use href="#ttile" x="241" y="1033.5"/><use href="#ttile" x="289" y="1033.5"/>
</g>
<g>
 <rect x="194" y="937" width="28" height="15" fill="#061222"/><rect x="243" y="937" width="16" height="15" fill="#5e5e5e"/><rect x="291" y="937" width="16" height="15" fill="#484848"/>
 <rect x="194" y="956.5" width="18" height="15" fill="#d38a48"/><rect x="243" y="956.5" width="16" height="15" fill="#6a6a6a"/><rect x="291" y="956.5" width="16" height="15" fill="#111"/><circle cx="299" cy="964" r="3.5" fill="#eee"/>
 <rect x="194" y="976" width="18" height="15" fill="#5a5a5a"/><rect x="243" y="976" width="16" height="15" fill="#555"/><rect x="291" y="976" width="20" height="15" fill="#d99070"/>
 <rect x="194" y="995.5" width="28" height="15" fill="#061222"/><rect x="243" y="995.5" width="16" height="15" fill="#4a4a4a"/><rect x="291" y="995.5" width="20" height="15" fill="#7a4a34"/>
 <rect x="194" y="1015" width="18" height="15" fill="#d4883c"/><rect x="243" y="1015" width="16" height="15" fill="#6a6a6a"/><rect x="291" y="1015" width="20" height="15" fill="#d6e2f0"/>
 <rect x="194" y="1034.5" width="28" height="15" fill="#061222"/><rect x="243" y="1034.5" width="28" height="15" fill="#061222"/><rect x="291" y="1034.5" width="18" height="15" fill="#d99050"/>
</g>
<rect x="134" y="1050" width="210" height="10" fill="url(#taskbar)"/>

<!-- ===== Phone ===== -->
<rect x="608" y="912" width="78" height="156" rx="11" fill="#1ea9dc"/>
<rect x="611" y="915" width="72" height="150" rx="9" fill="#141414"/>
<rect x="640" y="924" width="14" height="2" rx="1" fill="#555"/>
<rect x="613" y="933" width="68" height="115" fill="url(#phoneScr)"/>
<rect x="613" y="933" width="68" height="8" fill="#f4f6f8"/>
<g fill="#2b2b2b"><circle cx="622" cy="950" r="6"/><circle cx="622" cy="972" r="6"/><circle cx="622" cy="994" r="6" fill="#c87040"/><circle cx="622" cy="1016" r="6" fill="#1a3550"/><circle cx="622" cy="1038" r="6" fill="#d48040"/></g>
<g fill="#5a7ad0"><rect x="631" y="946" width="14" height="1.5"/><rect x="631" y="968" width="14" height="1.5"/><rect x="631" y="990" width="14" height="1.5"/><rect x="631" y="1012" width="14" height="1.5"/><rect x="631" y="1034" width="14" height="1.5"/></g>
<g fill="#888"><rect x="631" y="951" width="10" height="1"/><rect x="615" y="960" width="40" height="1"/><rect x="631" y="973" width="10" height="1"/><rect x="615" y="982" width="40" height="1"/><rect x="631" y="995" width="10" height="1"/><rect x="615" y="1004" width="30" height="1"/><rect x="631" y="1017" width="10" height="1"/></g>
<circle cx="647" cy="1057" r="5" fill="none" stroke="#666" stroke-width="1"/>

<!-- caption 2 -->
<text x="253" y="1100" font-size="13.5" fill="#6a2d80" textLength="292">图 1-0-2　多模态皮肤医学影像实时显示模式</text>
<text x="249" y="1118" class="serif" font-size="13" fill="#222" textLength="299">电脑终端显示、平板电脑显示和手机屏幕显示。</text>

<!-- page number -->
<path d="M761,1198 H900 V1225 H761 Q757,1225 757,1221 V1202 Q757,1198 761,1198 Z" fill="#62266b"/>
<text x="781" y="1217" font-size="15" fill="#fff">3</text>
</svg>
</body></html>
